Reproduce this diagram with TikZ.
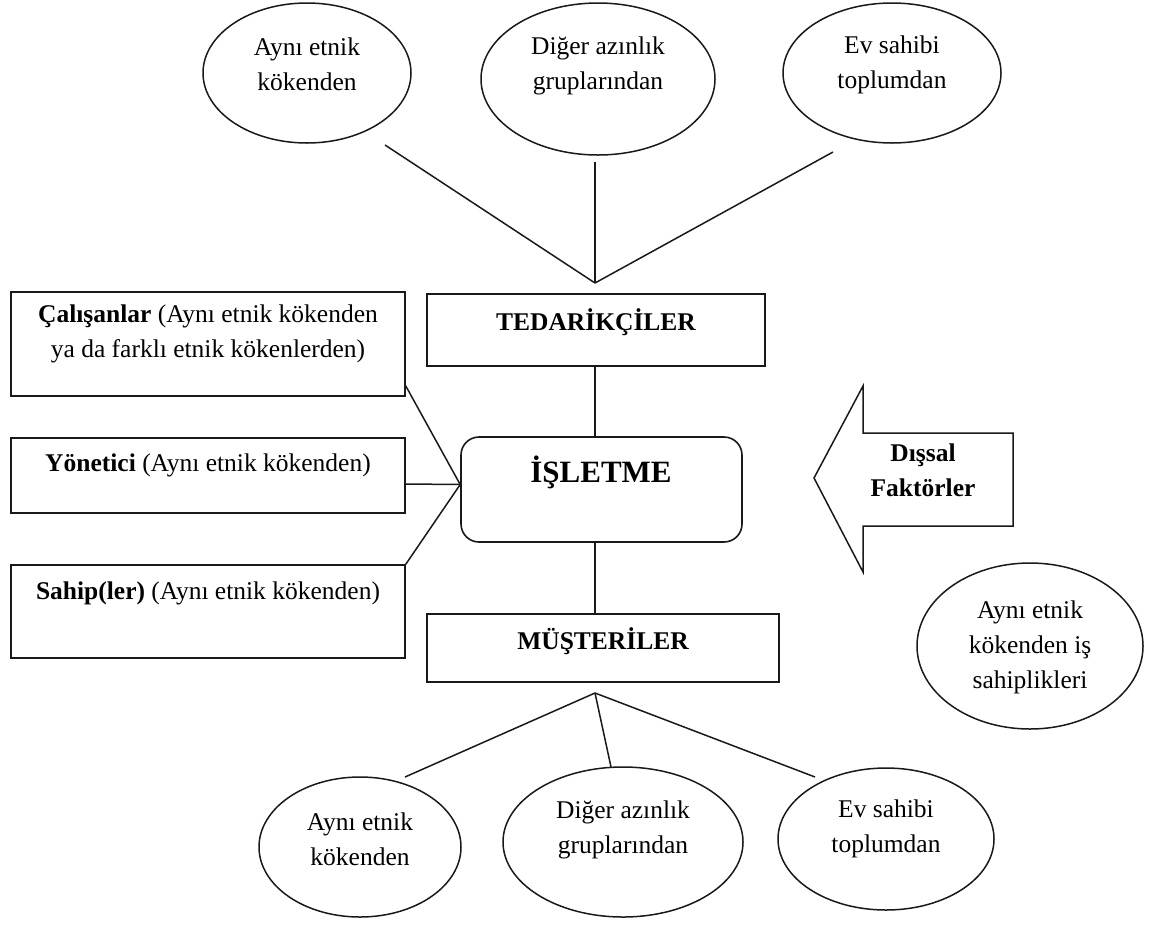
\documentclass[tikz,border=0pt]{standalone}
\usepackage{fontspec}
\setmainfont{Liberation Serif}
\usetikzlibrary{shapes.geometric}
\tikzset{
  ln/.style={line width=1.5pt, draw=black!90},
  box/.style={draw=black!90, line width=1.6pt, rectangle, inner sep=0pt},
  ell/.style={draw=black!90, line width=1.5pt, ellipse, inner sep=0pt},
  txt/.style={font=\fontsize{25.5}{35}\selectfont, align=center, inner sep=0pt, text=black},
  btxt/.style={txt, font=\fontsize{25.5}{35}\selectfont\bfseries},
}
\begin{document}
\begin{tikzpicture}[x=1pt,y=-1pt]
\useasboundingbox (0,0) rectangle (1155,924);

% top ellipses
\node[ell, minimum width=208pt, minimum height=140pt] (e1) at (307,73) {};
\node[ell, minimum width=234pt, minimum height=152pt] (e2) at (598,79) {};
\node[ell, minimum width=218pt, minimum height=140pt] (e3) at (892,73) {};
\node[txt] (e1t) at (307,64.5) {Aynı etnik\\kökenden};
\node[txt] (e2t) at (598,66) {Diğer azınlık\\gruplarından};
\node[txt] (e3t) at (892,64.5) {Ev sahibi\\toplumdan};

% central boxes
\node[box, minimum width=338pt, minimum height=72pt] (ted) at (596,330) {};
\node[box, rounded corners=18pt, minimum width=281pt, minimum height=105pt] (isl) at (601.5,489.5) {};
\node[box, minimum width=352pt, minimum height=68pt] (mus) at (603,648) {};
\node[btxt] (tedt) at (596,322) {TEDARİKÇİLER};
\node[btxt, font=\fontsize{31}{35}\selectfont\bfseries] (islt) at (601,472) {İŞLETME};
\node[btxt] (must) at (603,641) {MÜŞTERİLER};

% left boxes
\node[box, minimum width=394pt, minimum height=104pt] (cal) at (208,344) {};
\node[box, minimum width=394pt, minimum height=75pt] (yon) at (208,475.5) {};
\node[box, minimum width=394pt, minimum height=93pt] (sah) at (208,611.5) {};
\node[txt] (calt) at (208,334) {\textbf{Çalışanlar} (Aynı etnik kökenden\\ya da farklı etnik kökenlerden)};
\node[txt] (yont) at (208,465) {\textbf{Yönetici} (Aynı etnik kökenden)};
\node[txt] (saht) at (208,593) {\textbf{Sahip(ler)} (Aynı etnik kökenden)};

% external factors arrow
\draw[ln] (814,478) -- (863,386) -- (863,433) -- (1013,433) -- (1013,526)
  -- (863,526) -- (863,572) -- cycle;
\node[btxt] (dis) at (923,470.5) {Dışsal\\Faktörler};

% side ellipse
\node[ell, minimum width=226pt, minimum height=166pt] (es) at (1030,646) {};
\node[txt] (est) at (1030,647) {Aynı etnik\\kökenden iş\\sahiplikleri};

% bottom ellipses
\node[ell, minimum width=202pt, minimum height=140pt] (b1) at (360,847) {};
\node[ell, minimum width=240pt, minimum height=150pt] (b2) at (623,842) {};
\node[ell, minimum width=216pt, minimum height=142pt] (b3) at (886,839) {};
\node[txt] (b1t) at (360,839.5) {Aynı etnik\\kökenden};
\node[txt] (b2t) at (623,830) {Diğer azınlık\\gruplarından};
\node[txt] (b3t) at (886,829) {Ev sahibi\\toplumdan};

% connector points
\coordinate (tv) at (595,283);
\coordinate (e1s) at (385,145);
\coordinate (e2s) at (595,162);
\coordinate (e3s) at (833,152);
\coordinate (bv) at (595,693);
\coordinate (b1n) at (405,777);
\coordinate (b2n) at (611,767);
\coordinate (b3n) at (815,777);
\coordinate (ic) at ([yshift=5pt]isl.west);
\coordinate (tx) at (595,366);

% connectors
\draw[ln] (e1s) -- (tv);
\draw[ln] (e2s) -- (tv);
\draw[ln] (e3s) -- (tv);
\draw[ln] (tx |- ted.south) -- (tx |- isl.north);
\draw[ln] (tx |- isl.south) -- (tx |- mus.north);
\draw[ln] ([yshift=-42pt]cal.east) -- (ic);
\draw[ln] ([yshift=-8.5pt]yon.east) -- (ic);
\draw[ln] (sah.north east) -- (ic);
\draw[ln] (bv) -- (b1n);
\draw[ln] (bv) -- (b2n);
\draw[ln] (bv) -- (b3n);
\end{tikzpicture}
\end{document}
